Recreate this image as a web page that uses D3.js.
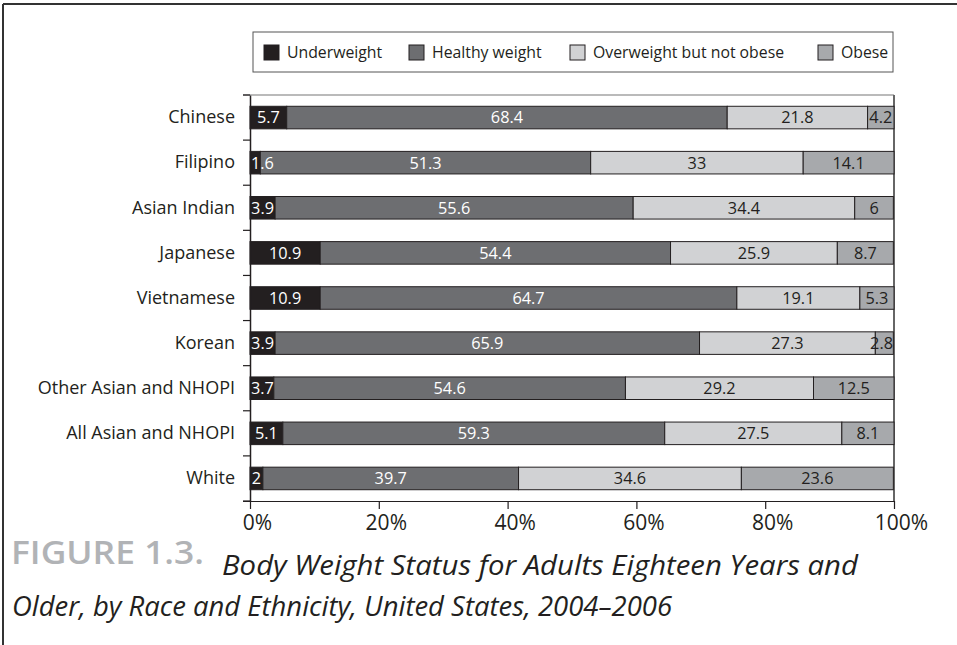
<!DOCTYPE html>
<html>
<head>
<meta charset="utf-8">
<script src="https://cdn.jsdelivr.net/npm/d3@7"></script>
<style>
  html, body { margin: 0; padding: 0; background: #fff; }
  svg { display: block; }
  text { font-family: "Open Sans", "Noto Sans", sans-serif; fill: #231f20; }
</style>
</head>
<body>
<script>
// Groups, top to bottom
const groups = ["Chinese", "Filipino", "Asian Indian", "Japanese", "Vietnamese",
  "Korean", "Other Asian and NHOPI", "All Asian and NHOPI", "White"];

// Weight status categories (stack order, left to right)
const statuses = ["Underweight", "Healthy weight", "Overweight but not obese", "Obese"];

// Percent of adults in each status, one array per status, aligned with groups
const underweight = [5.7, 1.6, 3.9, 10.9, 10.9, 3.9, 3.7, 5.1, 2];
const healthy     = [68.4, 51.3, 55.6, 54.4, 64.7, 65.9, 54.6, 59.3, 39.7];
const overweight  = [21.8, 33, 34.4, 25.9, 19.1, 27.3, 29.2, 27.5, 34.6];
const obese       = [4.2, 14.1, 6, 8.7, 5.3, 2.8, 12.5, 8.1, 23.6];

const xTicks = [0, 20, 40, 60, 80, 100];

const fills = ["#231f20", "#6d6e71", "#d1d2d4", "#a7a9ac"];
const labelFills = ["#ffffff", "#ffffff", "#231f20", "#231f20"];

const W = 957, H = 645;
const margin = { left: 250, right: 63, top: 95, bottom: 144 };
const plotW = W - margin.left - margin.right;   // 644
const plotH = H - margin.top - margin.bottom;   // 406

const svg = d3.select("body").append("svg").attr("width", W).attr("height", H);

// page frame (top and left rules)
svg.append("line").attr("x1", 3).attr("x2", W).attr("y1", 4).attr("y2", 4)
  .attr("stroke", "#333").attr("stroke-width", 2);
svg.append("line").attr("x1", 3).attr("x2", 3).attr("y1", 4).attr("y2", H)
  .attr("stroke", "#333").attr("stroke-width", 2);

const x = d3.scaleLinear().domain([0, 100]).range([0, plotW]);
const y = d3.scaleBand().domain(groups).range([0, plotH]).paddingInner(0.5).paddingOuter(0.25);

const rows = groups.map((g, i) => ({
  group: g,
  values: [underweight[i], healthy[i], overweight[i], obese[i]]
}));
const stacked = d3.stack().keys([0, 1, 2, 3]).value((d, k) => d.values[k])(rows);

const g = svg.append("g").attr("transform", `translate(${margin.left},${margin.top})`);

// plot frame: top and right edges
g.append("line").attr("x1", -7).attr("x2", plotW).attr("y1", 0).attr("y2", 0)
  .attr("stroke", "#777").attr("stroke-width", 1.2);
g.append("line").attr("x1", plotW).attr("x2", plotW).attr("y1", 0).attr("y2", plotH)
  .attr("stroke", "#666").attr("stroke-width", 2);

// stacked segments
stacked.forEach((layer, k) => {
  const lg = g.append("g");
  lg.selectAll("rect").data(layer).join("rect")
    .attr("x", d => x(d[0]))
    .attr("y", d => y(d.data.group))
    .attr("width", d => Math.max(0, Math.min(x(d[1]), plotW) - x(d[0])))
    .attr("height", y.bandwidth())
    .attr("fill", fills[k])
    .attr("stroke", "#231f20")
    .attr("stroke-width", 1);
});

// value labels, kept inside the plot area
stacked.forEach((layer, k) => {
  g.append("g").selectAll("text").data(layer).join("text")
    .text(d => d.data.values[k])
    .attr("y", d => y(d.data.group) + y.bandwidth() / 2)
    .attr("dy", "0.36em")
    .attr("text-anchor", "middle")
    .attr("font-size", 16.3)
    .style("fill", labelFills[k])
    .attr("x", function (d) {
      const w = this.getComputedTextLength();
      const c = (x(d[0]) + Math.min(x(d[1]), plotW)) / 2;
      return Math.max(w / 2 + 1, Math.min(plotW - w / 2 - 1, c));
    });
});

// y axis
const yAxis = g.append("g").call(d3.axisLeft(y).tickSize(0).tickPadding(15));
yAxis.select(".domain").attr("stroke", "#231f20").attr("stroke-width", 1.5);
yAxis.selectAll("text").attr("font-size", 18).style("fill", "#231f20");
// separator ticks on every band boundary
g.append("g").selectAll("line").data(d3.range(0, groups.length + 1)).join("line")
  .attr("x1", -7).attr("x2", 0)
  .attr("y1", i => i * y.step())
  .attr("y2", i => i * y.step())
  .attr("stroke", "#231f20").attr("stroke-width", 1.2);

// x axis
const xAxis = g.append("g").attr("transform", `translate(0,${plotH})`)
  .call(d3.axisBottom(x).tickValues(xTicks).tickFormat(d => d + "%").tickSizeOuter(0).tickSize(8).tickPadding(6));
xAxis.select(".domain").attr("stroke", "#231f20").attr("stroke-width", 1.2)
  .attr("d", `M-7,0.5H${plotW}`);
xAxis.selectAll(".tick line").attr("stroke", "#231f20").attr("stroke-width", 1.2);
xAxis.selectAll("text").attr("font-size", 21).attr("dx", 7).style("fill", "#231f20");

// legend
const legend = svg.append("g").attr("transform", "translate(253,32)");
legend.append("rect").attr("width", 640).attr("height", 40)
  .attr("fill", "#fff").attr("stroke", "#555").attr("stroke-width", 1);
const legendX = [11, 156, 317, 565];
statuses.forEach((s, k) => {
  const it = legend.append("g").attr("transform", `translate(${legendX[k]},13)`);
  it.append("rect").attr("width", 15).attr("height", 15)
    .attr("fill", fills[k]).attr("stroke", "#231f20").attr("stroke-width", 1);
  it.append("text").attr("x", 23).attr("y", 7.5).attr("dy", "0.36em")
    .attr("font-size", 15.8).text(s);
});

// figure caption
const cap = svg.append("g");
cap.append("text").attr("x", 11).attr("y", 564)
  .attr("font-size", 33).attr("font-weight", 600)
  .style("fill", "#b1b3b6")
  .attr("textLength", 193).attr("lengthAdjust", "spacingAndGlyphs")
  .text("FIGURE 1.3.");
cap.append("text").attr("x", 222).attr("y", 575)
  .attr("font-size", 27).attr("font-style", "italic")
  .attr("textLength", 636).attr("lengthAdjust", "spacingAndGlyphs")
  .text("Body Weight Status for Adults Eighteen Years and");
cap.append("text").attr("x", 12).attr("y", 616)
  .attr("font-size", 27).attr("font-style", "italic")
  .attr("textLength", 660).attr("lengthAdjust", "spacingAndGlyphs")
  .text("Older, by Race and Ethnicity, United States, 2004–2006");
</script>
</body>
</html>
